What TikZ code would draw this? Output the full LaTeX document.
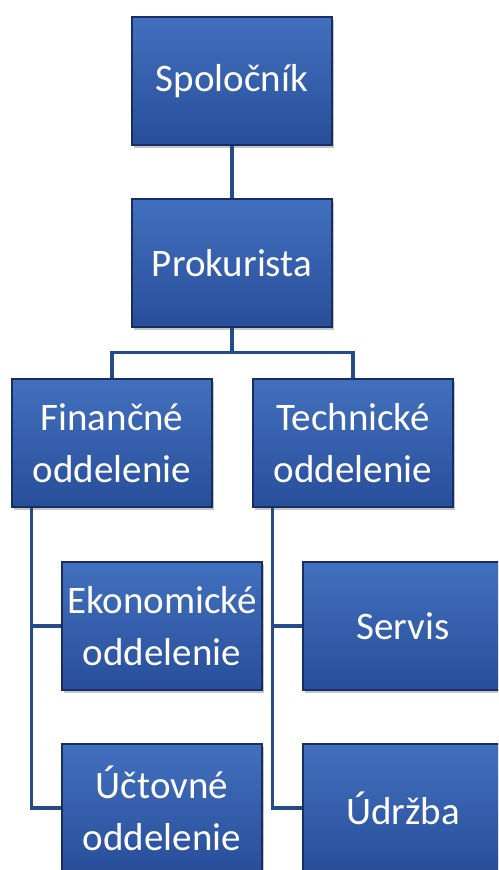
\documentclass[tikz,border=0pt]{standalone}
\usepackage{fontspec}
\setmainfont{Carlito}
\usetikzlibrary{shadows}
\definecolor{boxtop}{RGB}{66,112,190}
\definecolor{boxbot}{RGB}{40,78,154}
\definecolor{boxedge}{RGB}{24,46,98}
\definecolor{linec}{RGB}{36,76,136}
\tikzset{
  unit/.style={draw=boxedge, line width=1.2pt, top color=boxtop, bottom color=boxbot,
    minimum width=200pt, minimum height=128pt, text=white,
    font=\fontsize{39}{52}\selectfont, align=center, inner sep=0pt,
    drop shadow={shadow xshift=2pt, shadow yshift=-3pt, opacity=0.45}},
  conn/.style={draw=linec, line width=3.5pt}
}
\begin{document}
\begin{tikzpicture}[x=1pt,y=-1pt]
\useasboundingbox (0,0) rectangle (498,870);
\fill[white] (0,0) rectangle (498,870);
\clip (0,0) rectangle (498,870);
\node[unit] (sp) at (232,81) {Spoločník};
\node[unit] (pk) at (232,263) {Prokurista};
\node[unit] (fin) at (112,443) {Finančné\\oddelenie};
\node[unit] (tech) at (353,443) {Technické\\oddelenie};
\node[unit] (ekon) at (162,626) {Ekonomické\\oddelenie};
\node[unit] (serv) at (403,626) {Servis};
\node[unit] (uct) at (162,808) {Účtovné\\oddelenie};
\node[unit] (udr) at (403,808) {Údržba};
\coordinate (ft) at ([xshift=20pt]fin.south west);
\coordinate (tt) at ([xshift=20pt]tech.south west);
\draw[conn] (sp.south) -- (pk.north);
\draw[conn] (pk.south) -- ++(0,25) coordinate (bar) -| (fin.north);
\draw[conn] (bar) -| (tech.north);
\draw[conn] (ft) |- (ekon.west);
\draw[conn] (ft) |- (uct.west);
\draw[conn] (tt) |- (serv.west);
\draw[conn] (tt) |- (udr.west);
\end{tikzpicture}
\end{document}
